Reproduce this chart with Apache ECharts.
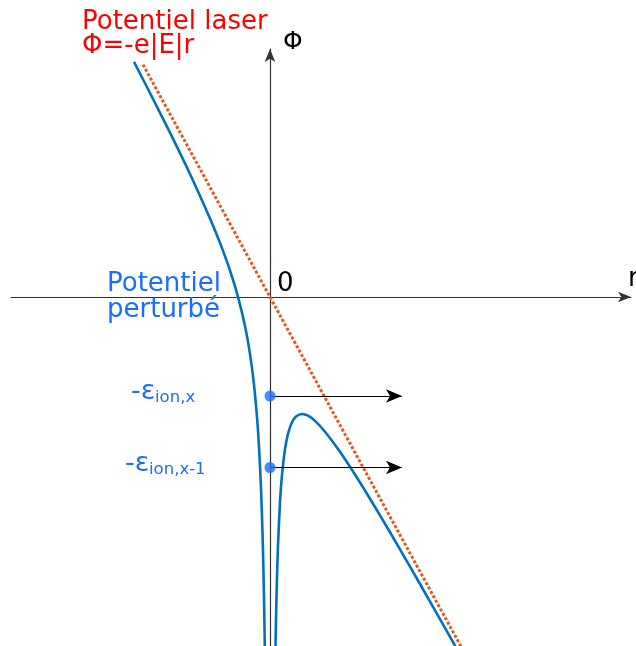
<!DOCTYPE html>
<html><head><meta charset="utf-8">
<script src="https://cdn.jsdelivr.net/npm/echarts@6/dist/echarts.min.js"></script>
<style>html,body{margin:0;padding:0;background:#fff}#c{width:636px;height:646px}</style>
</head><body><div id="c"></div>
<script>
// r and Φ in arbitrary units (origin at the axes crossing)
const xRange = [-2.59, 3.61];
const yRange = [-3.49, 2.48];
const laserLine = [[-1.27, 2.324], [1.92, -3.514]];
const perturbedLeft = [
  [-1.36, 2.351], [-1.2, 2.040], [-1.0, 1.643], [-0.8, 1.230], [-0.6, 0.786],
  [-0.5, 0.541], [-0.4, 0.265], [-0.32, 0.002], [-0.25, -0.291], [-0.2, -0.569],
  [-0.16, -0.876], [-0.13, -1.200], [-0.11, -1.499], [-0.09, -1.913],
  [-0.075, -2.356], [-0.065, -2.758], [-0.057, -3.177], [-0.05, -3.649]
];
const perturbedRight = [
  [0.05, -3.83], [0.055, -3.50], [0.06, -3.227], [0.07, -2.799], [0.08, -2.484],
  [0.10, -2.053], [0.12, -1.778], [0.15, -1.521], [0.18, -1.368], [0.22, -1.253],
  [0.26, -1.195], [0.32, -1.170], [0.38, -1.187], [0.45, -1.239], [0.55, -1.347],
  [0.7, -1.548], [0.9, -1.855], [1.1, -2.183], [1.3, -2.523], [1.5, -2.870],
  [1.7, -3.221], [1.9, -3.575]
];
const levelNames = ['ion,x', 'ion,x-1'];
const levelValues = [-0.99, -1.705];
const arrowEndR = 1.32;

const FONT = 'DejaVu Sans';
const BLUE_TXT = '#1a6dff';
const chart = echarts.init(document.getElementById('c'), null, {renderer: 'canvas'});

const axisCommon = {
  type: 'value',
  axisTick: {show: false},
  axisLabel: {show: false},
  splitLine: {show: false},
  axisLine: {onZero: true, symbol: ['none', 'arrow'], symbolSize: [8, 13],
             lineStyle: {color: '#333', width: 1.2}}
};

function txt(x, y, text, color, size, extra) {
  return {type: 'text', x: x, y: y, z: 10,
    style: Object.assign({text: text, fill: color, font: size + 'px "' + FONT + '"', verticalAlign: 'middle', align: 'left'}, extra || {})};
}

const graphics = [
  txt(82, 22, 'Potentiel laser', '#ff0000', 26),
  txt(82, 46, 'Φ=-e|E|r', '#ff0000', 26, {}),
  txt(283, 42, 'Φ', '#000', 25),
  txt(277, 284, '0', '#000', 26),
  txt(628, 279, 'r', '#000', 26),
  txt(107, 284, 'Potentiel', BLUE_TXT, 26),
  txt(107, 310, 'perturbé', BLUE_TXT, 26),
  txt(131, 392, '-ε', BLUE_TXT, 27),
  txt(155, 398, levelNames[0], BLUE_TXT, 16.5),
  txt(125, 464, '-ε', BLUE_TXT, 27),
  txt(149, 470, levelNames[1], BLUE_TXT, 16.5)
];

chart.setOption({
  animation: false,
  backgroundColor: '#fff',
  grid: {left: 11, right: 5, top: 49, bottom: 0},
  xAxis: Object.assign({}, axisCommon, {min: xRange[0], max: xRange[1]}),
  yAxis: Object.assign({}, axisCommon, {min: yRange[0], max: yRange[1]}),
  graphic: graphics,
  series: [
    {type: 'line', data: laserLine, showSymbol: false, clip: false, z: 3,
     lineStyle: {color: '#e05a22', width: 3, type: [3, 2]}},
    {type: 'line', data: perturbedLeft, showSymbol: false, clip: false, smooth: 0.3, z: 4,
     lineStyle: {color: '#0070c0', width: 2.6}},
    {type: 'line', data: perturbedRight, showSymbol: false, clip: false, smooth: 0.3, z: 4,
     lineStyle: {color: '#0070c0', width: 2.6}},
    {type: 'scatter', data: levelValues.map(v => [0, v]), symbolSize: 11, z: 6,
     itemStyle: {color: BLUE_TXT},
     markLine: {silent: true, symbol: ['none', 'arrow'], symbolSize: [10, 16], label: {show: false},
       lineStyle: {color: '#000', width: 1, type: 'solid'},
       data: levelValues.map(v => [{coord: [0, v]}, {coord: [arrowEndR, v]}])}}
  ]
});
</script></body></html>
